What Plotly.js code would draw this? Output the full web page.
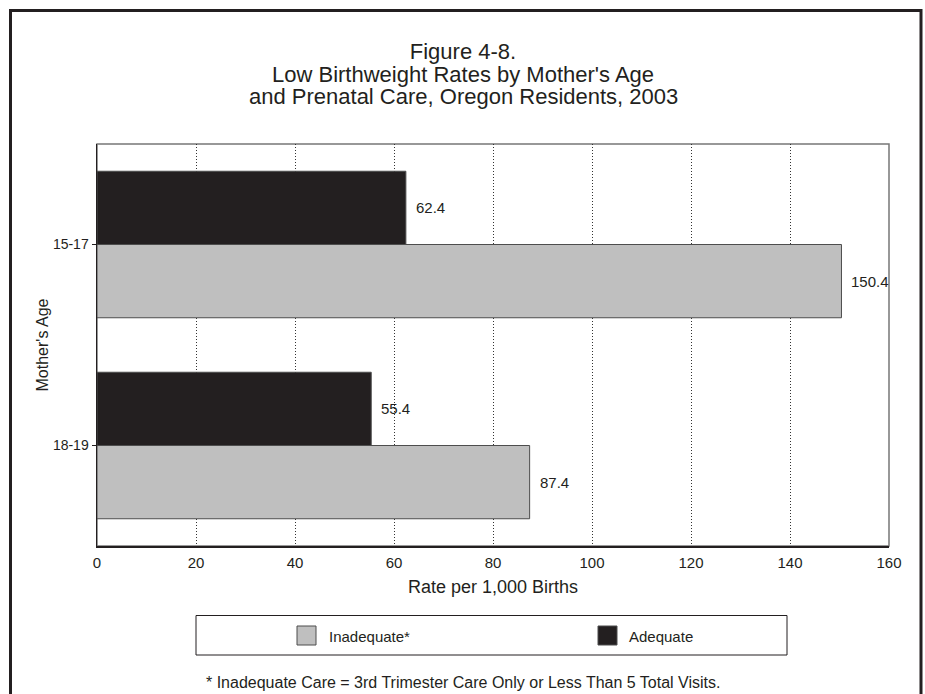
<!DOCTYPE html>
<html><head><meta charset="utf-8">
<script src="https://cdn.plot.ly/plotly-3.0.1.min.js"></script>
<style>html,body{margin:0;padding:0;background:#fff;} #chart{width:925px;height:694px;}</style>
</head><body><div id="chart"></div>
<script>
const ageGroups = ['15-17', '18-19'];
const adequateRates = [62.4, 55.4];
const inadequateRates = [150.4, 87.4];
const seriesNames = ['Inadequate*', 'Adequate'];
const seriesColors = ['#bfbfbf', '#231f20'];
const xTickValues = [0, 20, 40, 60, 80, 100, 120, 140, 160];
const xTickLabels = ['0', '20', '40', '60', '80', '100', '120', '140', '160'];
const titleLines = ['Figure 4-8.', "Low Birthweight Rates by Mother's Age", 'and Prenatal Care, Oregon Residents, 2003'];
const xAxisTitle = 'Rate per 1,000 Births';
const yAxisTitle = "Mother's Age";
const footnote = '* Inadequate Care = 3rd Trimester Care Only or Less Than 5 Total Visits.';

const W = 925, H = 694, M = {l: 97, r: 36, t: 144, b: 148};
const pw = W - M.l - M.r, ph = H - M.t - M.b;
const px = x => (x - M.l) / pw;
const py = y => (H - M.b - y) / ph;
const FONT = 'Liberation Sans, Arial, sans-serif';
const INK = '#231f20';

const traces = [
  {type: 'bar', orientation: 'h', name: seriesNames[1], y: ageGroups, x: adequateRates,
   marker: {color: seriesColors[1], line: {color: '#4d4d4d', width: 1}}, hoverinfo: 'x+name'},
  {type: 'bar', orientation: 'h', name: seriesNames[0], y: ageGroups, x: inadequateRates,
   marker: {color: seriesColors[0], line: {color: '#4d4d4d', width: 1}}, hoverinfo: 'x+name'}
];

const annotations = [];
const halfBar = 36.6;
ageGroups.forEach((g, i) => {
  annotations.push({x: adequateRates[i], y: g, xref: 'x', yref: 'y', text: adequateRates[i].toFixed(1),
    showarrow: false, xanchor: 'left', yanchor: 'middle', xshift: 8, yshift: halfBar,
    font: {family: FONT, size: 15, color: INK}});
  annotations.push({x: inadequateRates[i], y: g, xref: 'x', yref: 'y', text: inadequateRates[i].toFixed(1),
    showarrow: false, xanchor: 'left', yanchor: 'middle', xshift: 8, yshift: -halfBar,
    font: {family: FONT, size: 15, color: INK}});
});

// title lines 2 and 3 (line 1 is layout.title)
const titleY = [51, 74, 97];
for (let k = 1; k < titleLines.length; k++) {
  annotations.push({xref: 'paper', yref: 'paper', x: px(463), y: py(titleY[k]), text: titleLines[k], showarrow: false,
    xanchor: 'center', yanchor: 'middle', font: {family: FONT, size: 22, color: INK}});
}

// custom legend
const legendItems = [
  {name: seriesNames[0], color: seriesColors[0], sx: 297, tx: 327},
  {name: seriesNames[1], color: seriesColors[1], sx: 598, tx: 627}
];
const shapes = [
  {type: 'rect', xref: 'paper', yref: 'paper', x0: 0, x1: 1, y0: 0, y1: 1, line: {color: '#777', width: 1.5}, layer: 'below'},
  {type: 'rect', xref: 'paper', yref: 'paper', x0: px(10.5), x1: px(921), y0: py(720), y1: py(10.5), line: {color: INK, width: 3}},
  {type: 'rect', xref: 'paper', yref: 'paper', x0: px(196), x1: px(787), y0: py(655), y1: py(615.5), line: {color: INK, width: 1}}
];
legendItems.forEach(it => {
  shapes.push({type: 'rect', xref: 'paper', yref: 'paper', x0: px(it.sx), x1: px(it.sx + 19), y0: py(645), y1: py(626),
    fillcolor: it.color, line: {color: '#4d4d4d', width: 1}});
  annotations.push({xref: 'paper', yref: 'paper', x: px(it.tx), y: py(636), text: it.name, showarrow: false,
    xanchor: 'left', yanchor: 'middle', font: {family: FONT, size: 15, color: INK}});
});
annotations.push({xref: 'paper', yref: 'paper', x: px(204), y: py(682), text: footnote, showarrow: false,
  xanchor: 'left', yanchor: 'middle', font: {family: FONT, size: 16, color: INK}});

const layout = {
  width: W, height: H,
  margin: M,
  paper_bgcolor: '#fff', plot_bgcolor: '#fff',
  font: {family: FONT, color: INK},
  title: {text: titleLines[0], font: {family: FONT, size: 22, color: INK},
    x: px(463), xanchor: 'center', xref: 'paper', y: 1 - titleY[0] / H, yanchor: 'middle', yref: 'container'},
  barmode: 'group', bargap: 0.271, bargroupgap: 0,
  showlegend: false,
  xaxis: {range: [0, 160], tickvals: xTickValues, ticktext: xTickLabels, showgrid: true, gridcolor: '#333',
    griddash: '1px,2px', gridwidth: 1, zeroline: false, showline: true, linecolor: INK, linewidth: 1.5,
    ticks: '', tickfont: {family: FONT, size: 15, color: INK}, ticklabelstandoff: 2,
    title: {text: xAxisTitle, font: {family: FONT, size: 18, color: INK}, standoff: 11}, fixedrange: true},
  yaxis: {type: 'category', categoryorder: 'array', categoryarray: ageGroups, range: [1.5, -0.5],
    showgrid: false, zeroline: false, showline: true, linecolor: INK, linewidth: 1.5,
    ticks: 'outside', ticklen: 4, tickcolor: INK, tickwidth: 1, tickfont: {family: FONT, size: 14, color: INK},
    title: {text: yAxisTitle, font: {family: FONT, size: 16, color: INK}, standoff: 0}, fixedrange: true},
  shapes: shapes,
  annotations: annotations
};

Plotly.newPlot('chart', traces, layout, {displayModeBar: false, staticPlot: true});
</script>
</body></html>
